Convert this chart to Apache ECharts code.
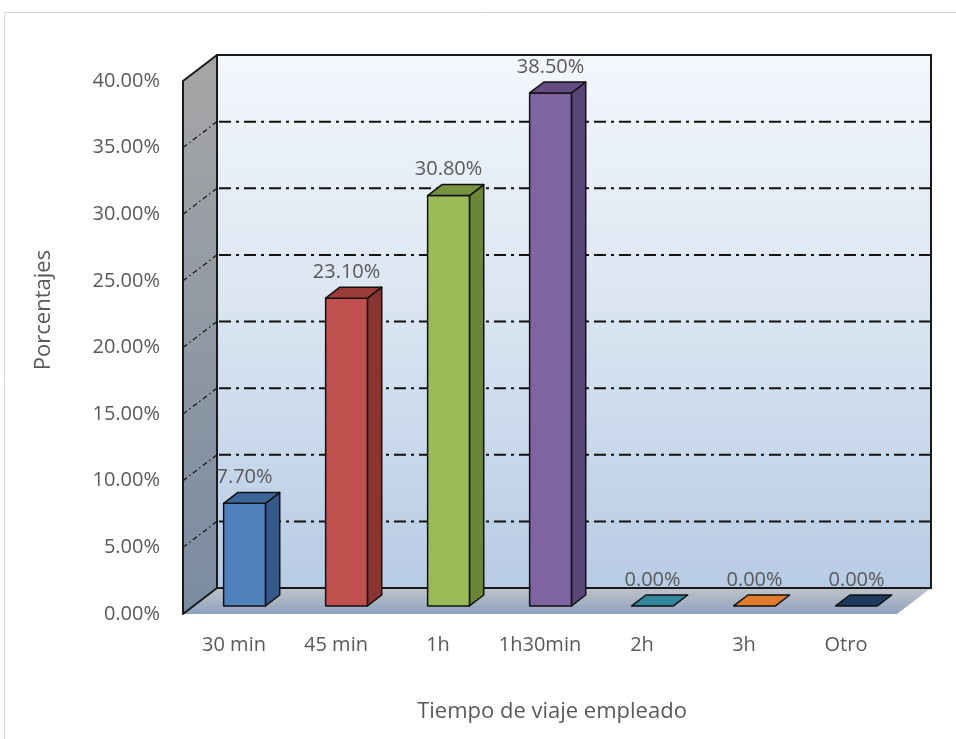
<!DOCTYPE html>
<html>
<head>
<meta charset="utf-8">
<script src="https://cdn.jsdelivr.net/npm/echarts@6/dist/echarts.min.js"></script>
<style>
  html, body { margin: 0; padding: 0; background: #ffffff; }
  #chart { width: 956px; height: 739px; }
</style>
</head>
<body>
<div id="chart"></div>
<script>
// Travel time categories and their share of respondents (%)
const categories = ['30 min', '45 min', '1h', '1h30min', '2h', '3h', 'Otro'];
const percentages = [7.7, 23.1, 30.8, 38.5, 0, 0, 0];
const yTicks = [0, 5, 10, 15, 20, 25, 30, 35, 40];

// Face colours for each box: front, right side, top
const frontColors = ['#4F81BD', '#C0504D', '#9BBB59', '#8064A2', '#4BACC6', '#F79646', '#2C4D75'];
const sideColors  = ['#35598A', '#8A3532', '#6A8538', '#5A4579', '#2F7F95', '#B8651E', '#1A2F4A'];
const topColors   = ['#3C659A', '#9C3C39', '#76923C', '#644C82', '#31859C', '#E07B2B', '#1F3A5F'];

// 3D projection of the depth axis (pixels for the full floor depth)
const DEPTH_X = 34, DEPTH_Y = -26;
const BOX_FRONT = 0.31, BOX_BACK = 0.73, BOX_WIDTH = 0.41;

const fmt = v => v.toFixed(2) + '%';
const TEXT = '#595959';
const FONT = 'Open Sans';

function renderWalls(params, api) {
  const cs = params.coordSys;
  const x0 = cs.x, x1 = cs.x + cs.width, yTop = cs.y, yBot = cs.y + cs.height;
  const children = [];
  // back wall
  children.push({
    type: 'rect',
    shape: { x: x0 + DEPTH_X, y: yTop + DEPTH_Y, width: cs.width, height: cs.height },
    style: {
      fill: new echarts.graphic.LinearGradient(0, 0, 0, 1, [
        { offset: 0, color: '#F4F7FC' },
        { offset: 0.5, color: '#D9E4F1' },
        { offset: 1, color: '#B7CBE4' }
      ]),
      stroke: '#1a1a1a', lineWidth: 2
    }
  });
  // floor
  children.push({
    type: 'polygon',
    shape: { points: [[x0, yBot], [x0 + DEPTH_X, yBot + DEPTH_Y], [x1 + DEPTH_X, yBot + DEPTH_Y], [x1, yBot]] },
    style: {
      fill: new echarts.graphic.LinearGradient(0, 0, 0, 1, [
        { offset: 0, color: '#C0C4CA' },
        { offset: 1, color: '#8DA2BE' }
      ])
    }
  });
  children.push({
    type: 'line',
    shape: { x1: x0 + DEPTH_X, y1: yBot + DEPTH_Y, x2: x1 + DEPTH_X, y2: yBot + DEPTH_Y },
    style: { stroke: '#1a1a1a', lineWidth: 2 }
  });
  // left side wall
  children.push({
    type: 'polygon',
    shape: { points: [[x0, yTop], [x0 + DEPTH_X, yTop + DEPTH_Y], [x0 + DEPTH_X, yBot + DEPTH_Y], [x0, yBot]] },
    style: {
      fill: new echarts.graphic.LinearGradient(0, 0, 0, 1, [
        { offset: 0, color: '#A6A6A6' },
        { offset: 1, color: '#7A8BA1' }
      ]),
      stroke: '#1a1a1a', lineWidth: 2, lineJoin: 'round'
    }
  });
  // value gridlines across the side and back walls
  yTicks.forEach(t => {
    if (t === 0 || t === yTicks[yTicks.length - 1]) return;
    const y = api.coord([0, t])[1];
    children.push({
      type: 'line',
      shape: { x1: x0, y1: y, x2: x0 + DEPTH_X, y2: y + DEPTH_Y },
      style: { stroke: '#111', lineWidth: 1.2, lineDash: [5, 3, 1.5, 3] }
    });
    children.push({
      type: 'line',
      shape: { x1: x0 + DEPTH_X + 2, y1: y + DEPTH_Y, x2: x1 + DEPTH_X - 1, y2: y + DEPTH_Y },
      style: { stroke: '#111', lineWidth: 2, lineDash: [12, 5, 3, 5] }
    });
  });
  return { type: 'group', children: children };
}

function renderBox(params, api) {
  const i = api.value(0), v = api.value(1);
  const base = api.coord([i, 0]);
  const top = api.coord([i, v]);
  const w = api.size([1, 0])[0] * BOX_WIDTH;
  const fx = DEPTH_X * BOX_FRONT, fy = DEPTH_Y * BOX_FRONT;
  const sx = DEPTH_X * (BOX_BACK - BOX_FRONT), sy = DEPTH_Y * (BOX_BACK - BOX_FRONT);
  const xl = base[0] - w / 2 + fx, xr = base[0] + w / 2 + fx;
  const yb = base[1] + fy, yt = top[1] + fy;
  const edge = { stroke: '#111', lineWidth: 1.5, lineJoin: 'round' };
  const children = [];
  if (yb - yt > 0.5) {
    children.push({
      type: 'polygon',
      shape: { points: [[xr, yt], [xr + sx, yt + sy], [xr + sx, yb + sy], [xr, yb]] },
      style: Object.assign({ fill: sideColors[i] }, edge)
    });
    children.push({
      type: 'rect',
      shape: { x: xl, y: yt, width: w, height: yb - yt },
      style: Object.assign({ fill: frontColors[i] }, edge)
    });
  }
  children.push({
    type: 'polygon',
    shape: { points: [[xl, yt], [xl + sx, yt + sy], [xr + sx, yt + sy], [xr, yt]] },
    style: Object.assign({ fill: topColors[i] }, edge)
  });
  children.push({
    type: 'text',
    style: {
      text: fmt(v), x: (xl + xr) / 2, y: yt + sy - 15,
      align: 'center', verticalAlign: 'middle',
      fill: TEXT, font: '20px "' + FONT + '"'
    }
  });
  return { type: 'group', children: children };
}

const chart = echarts.init(document.getElementById('chart'), null, { renderer: 'canvas' });
chart.setOption({
  animation: false,
  backgroundColor: '#ffffff',
  grid: { left: 183, right: 59, top: 81, bottom: 125, containLabel: false },
  xAxis: {
    type: 'category',
    data: categories,
    axisLine: { show: false },
    axisTick: { show: false },
    axisLabel: { color: TEXT, fontFamily: FONT, fontSize: 20, margin: 21, interval: 0, hideOverlap: false }
  },
  yAxis: {
    type: 'value',
    min: 0, max: 40, interval: 5,
    axisLine: { show: false },
    axisTick: { show: false },
    splitLine: { show: false },
    axisLabel: {
      color: TEXT, fontFamily: FONT, fontSize: 20, margin: 23,
      padding: [7, 0, 0, 0], formatter: v => fmt(v)
    }
  },
  graphic: [
    {
      type: 'rect', silent: true, z: -10,
      shape: { x: 4.5, y: 12.5, width: 1000, height: 800 },
      style: { fill: 'none', stroke: '#D9D9D9', lineWidth: 1 }
    },
    {
      type: 'text', x: 44, y: 310, rotation: Math.PI / 2,
      style: { text: 'Porcentajes', fill: TEXT, font: '22px "' + FONT + '"', align: 'center', verticalAlign: 'middle' }
    },
    {
      type: 'text', x: 552, y: 712,
      style: { text: 'Tiempo de viaje empleado', fill: TEXT, font: '22px "' + FONT + '"', align: 'center', verticalAlign: 'middle' }
    }
  ],
  series: [
    {
      type: 'custom', name: 'walls', z: 1, silent: true,
      renderItem: renderWalls,
      data: [[0, 0]]
    },
    {
      type: 'custom', name: 'Porcentajes', z: 2,
      renderItem: renderBox,
      data: percentages.map((v, i) => [i, v])
    }
  ]
});
</script>
</body>
</html>
